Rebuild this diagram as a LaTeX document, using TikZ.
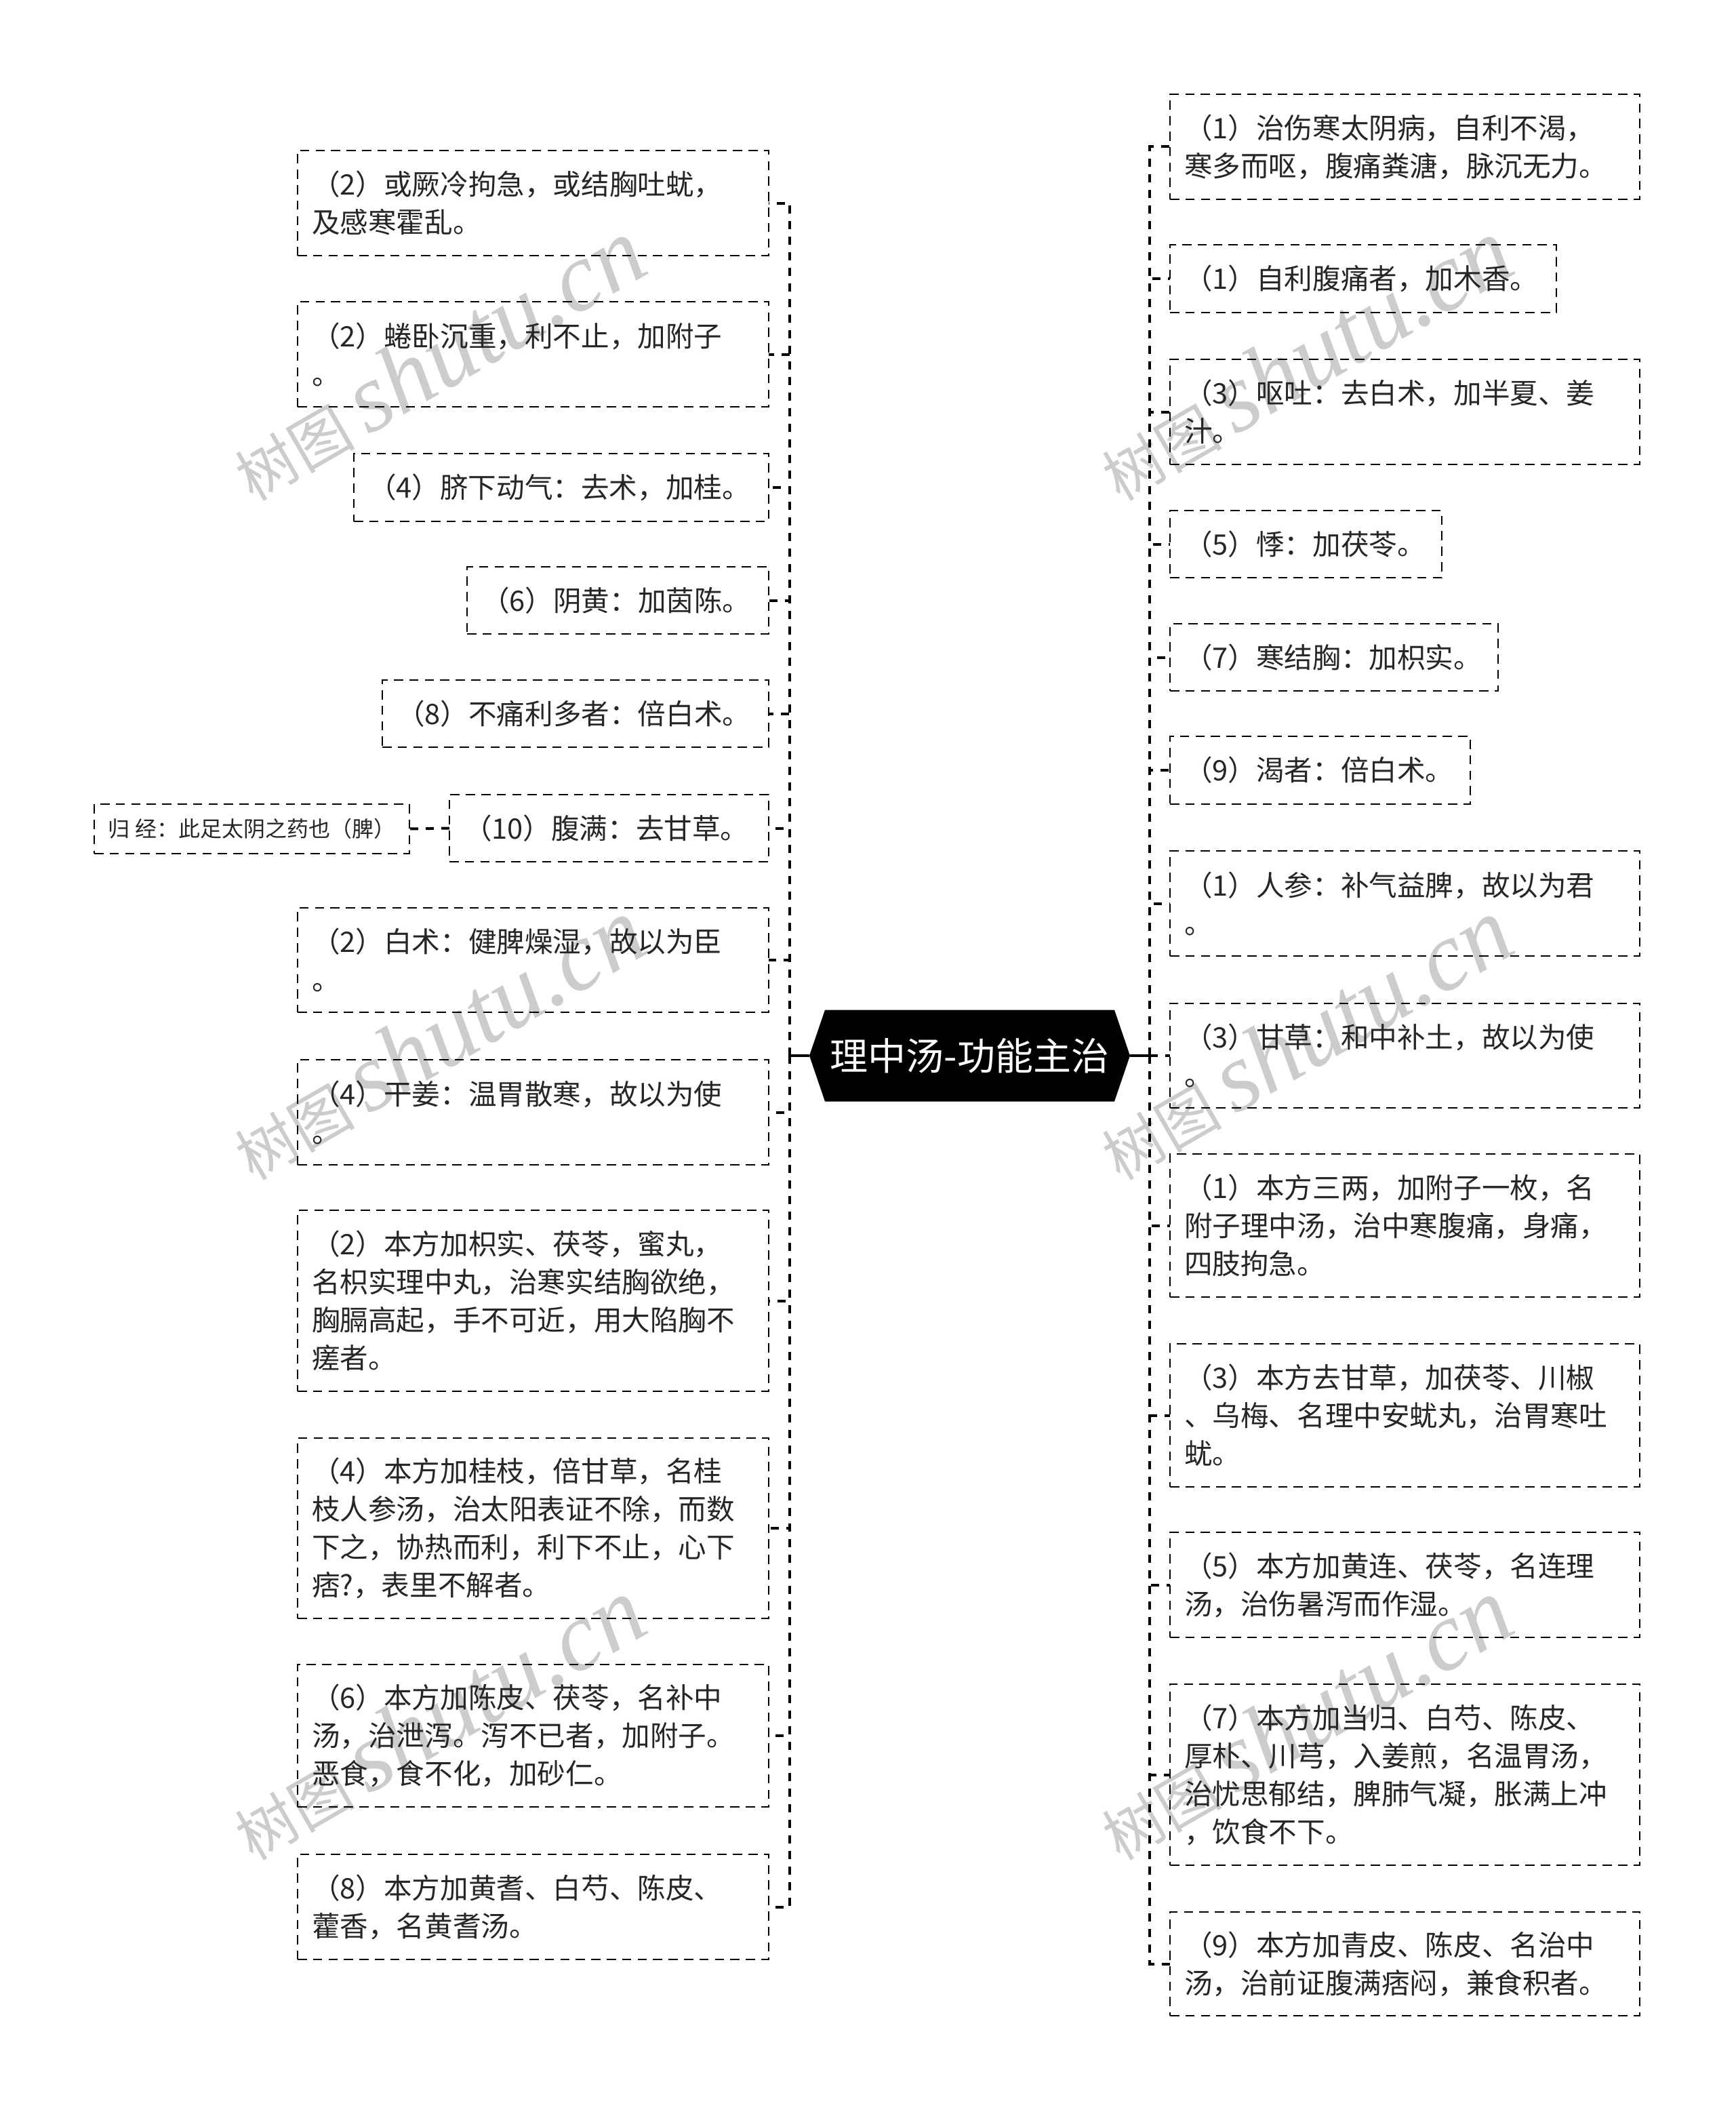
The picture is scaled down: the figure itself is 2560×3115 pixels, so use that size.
\documentclass[tikz,border=0pt]{standalone}
\usepackage{fontspec}
\setmainfont{Noto Sans CJK SC}
\newfontfamily\wmlatin{Liberation Serif}
\usetikzlibrary{calc,backgrounds}
\newdimen\bxw \newdimen\bxh \newdimen\bxt
\tikzset{
  box/.style={draw=black, line width=0.5pt, dash pattern=on 3.4pt off 2.3pt,
    anchor=north west, align=left, inner xsep=5.25pt, inner ysep=0pt, outer sep=0pt,
    font=\fontsize{10.4pt}{14pt}\selectfont, text=black!85},
  smallbox/.style={box, inner xsep=4.5pt, font=\fontsize{8pt}{10pt}\selectfont},
  hub/.style={minimum width=118.25pt, minimum height=33.75pt, inner sep=0pt, outer sep=0pt,
    text=white, font=\fontsize{14pt}{16pt}\selectfont},
  conn/.style={draw=black, line width=1pt, dash pattern=on 3pt off 2.75pt},
  trunk/.style={draw=black, line width=1pt},
  wm/.style={rotate=30, text=black!20, inner sep=0pt},
}
\newcommand\putbox[7][box]{%
  \bxw=\dimexpr 0.25pt*(#5-#3)\relax
  \bxh=\dimexpr 0.25pt*(#6-#4)\relax
  \bxt=\dimexpr 0.25pt*(#5-#3-42)\relax
  \node[#1, minimum width=\the\bxw, minimum height=\the\bxh, text width=\the\bxt] (#2) at (#3,#4) {#7};}
\begin{document}
\begin{tikzpicture}[x=0.25pt,y=-0.25pt]
\begin{scope}[on background layer]
  \fill[white] (0,0) rectangle (2560,3115);
\end{scope}
\useasboundingbox (0,0) rectangle (2560,3115);

% watermarks
\node[wm] (wm1) at (645,530) {\fontsize{22pt}{22pt}\selectfont 树图 {\wmlatin\itshape\fontsize{36pt}{36pt}\selectfont shutu.cn}};
\node[wm] (wm2) at (1924,530) {\fontsize{22pt}{22pt}\selectfont 树图 {\wmlatin\itshape\fontsize{36pt}{36pt}\selectfont shutu.cn}};
\node[wm] (wm3) at (645,1532) {\fontsize{22pt}{22pt}\selectfont 树图 {\wmlatin\itshape\fontsize{36pt}{36pt}\selectfont shutu.cn}};
\node[wm] (wm4) at (1924,1532) {\fontsize{22pt}{22pt}\selectfont 树图 {\wmlatin\itshape\fontsize{36pt}{36pt}\selectfont shutu.cn}};
\node[wm] (wm5) at (645,2535) {\fontsize{22pt}{22pt}\selectfont 树图 {\wmlatin\itshape\fontsize{36pt}{36pt}\selectfont shutu.cn}};
\node[wm] (wm6) at (1924,2535) {\fontsize{22pt}{22pt}\selectfont 树图 {\wmlatin\itshape\fontsize{36pt}{36pt}\selectfont shutu.cn}};

% central node
\node[hub] (c) at (1430.5,1557) {理中汤-功能主治};
\begin{scope}[on background layer]
  \fill[black] (c.west) -- ($(c.north west)+(23,0)$) -- ($(c.north east)+(-23,0)$) -- (c.east)
    -- ($(c.south east)+(-23,0)$) -- ($(c.south west)+(23,0)$) -- cycle;
\end{scope}

% left boxes
\putbox{L1}{439}{222}{1134}{377}{（2）或厥冷拘急，或结胸吐蚘，\\及感寒霍乱。}
\putbox{L2}{439}{445}{1134}{600}{（2）蜷卧沉重，利不止，加附子\\。}
\putbox{L3}{522}{669}{1134}{769}{（4）脐下动气：去术，加桂。}
\putbox{L4}{689}{836}{1134}{935}{（6）阴黄：加茵陈。}
\putbox{L5}{564}{1003}{1134}{1102}{（8）不痛利多者：倍白术。}
\putbox{L6}{663}{1172}{1134}{1271}{（10）腹满：去甘草。}
\putbox{L7}{439}{1339}{1134}{1493}{（2）白术：健脾燥湿，故以为臣\\。}
\putbox{L8}{439}{1563}{1134}{1718}{（4）干姜：温胃散寒，故以为使\\。}
\putbox{L9}{439}{1785}{1134}{2052}{（2）本方加枳实、茯苓，蜜丸，\\名枳实理中丸，治寒实结胸欲绝，\\胸膈高起，手不可近，用大陷胸不\\瘥者。}
\putbox{L10}{439}{2121}{1134}{2387}{（4）本方加桂枝，倍甘草，名桂\\枝人参汤，治太阳表证不除，而数\\下之，协热而利，利下不止，心下\\痞?，表里不解者。}
\putbox{L11}{439}{2455}{1134}{2665}{（6）本方加陈皮、茯苓，名补中\\汤，治泄泻。泻不已者，加附子。\\恶食，食不化，加砂仁。}
\putbox{L12}{439}{2735}{1134}{2890}{（8）本方加黄耆、白芍、陈皮、\\藿香，名黄耆汤。}
\node[smallbox, minimum width=116.25pt, minimum height=18.25pt] (G) at (139,1186) {归 经：此足太阴之药也（脾）};

% right boxes
\putbox{R1}{1726}{139}{2419}{294}{（1）治伤寒太阴病，自利不渴，\\寒多而呕，腹痛粪溏，脉沉无力。}
\putbox{R2}{1726}{361}{2296}{461}{（1）自利腹痛者，加木香。}
\putbox{R3}{1726}{530}{2419}{685}{（3）呕吐：去白术，加半夏、姜\\汁。}
\putbox{R4}{1726}{753}{2127}{852}{（5）悸：加茯苓。}
\putbox{R5}{1726}{920}{2210}{1019}{（7）寒结胸：加枳实。}
\putbox{R6}{1726}{1086}{2169}{1186}{（9）渴者：倍白术。}
\putbox{R7}{1726}{1255}{2419}{1410}{（1）人参：补气益脾，故以为君\\。}
\putbox{R8}{1726}{1480}{2419}{1634}{（3）甘草：和中补土，故以为使\\。}
\putbox{R9}{1726}{1702}{2419}{1913}{（1）本方三两，加附子一枚，名\\附子理中汤，治中寒腹痛，身痛，\\四肢拘急。}
\putbox{R10}{1726}{1982}{2419}{2193}{（3）本方去甘草，加茯苓、川椒\\、乌梅、名理中安蚘丸，治胃寒吐\\蚘。}
\putbox{R11}{1726}{2260}{2419}{2415}{（5）本方加黄连、茯苓，名连理\\汤，治伤暑泻而作湿。}
\putbox{R12}{1726}{2484}{2419}{2751}{（7）本方加当归、白芍、陈皮、\\厚朴、川芎，入姜煎，名温胃汤，\\治忧思郁结，脾肺气凝，胀满上冲\\，饮食不下。}
\putbox{R13}{1726}{2820}{2419}{2973}{（9）本方加青皮、陈皮、名治中\\汤，治前证腹满痞闷，兼食积者。}

% connectors
\coordinate (lj) at ($(c.west)+(-29,0)$);
\coordinate (rj) at ($(c.east)+(29,0)$);
\draw[trunk] (c.west) -- (lj);
\draw[trunk] (c.east) -- (rj);
\foreach \n in {L1,L2,L3,L4,L5,L6,L7,L8,L9,L10,L11,L12}
  \draw[conn] (lj) |- (\n.east);
\foreach \n in {R1,R2,R3,R4,R5,R6,R7,R8,R9,R10,R11,R12,R13}
  \draw[conn] (rj) |- (\n.west);
\draw[conn] (L6.west) -- (G.east);
\end{tikzpicture}
\end{document}
